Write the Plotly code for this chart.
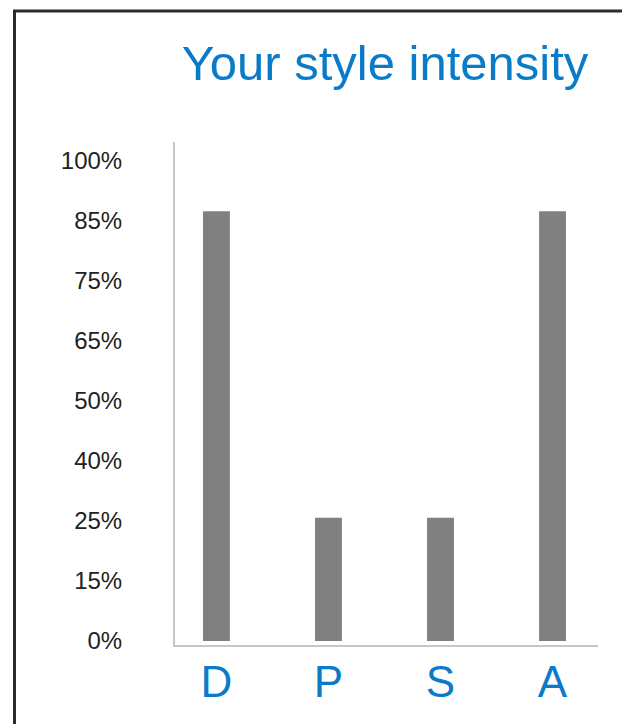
import plotly.graph_objects as go

# Data
categories = ["D", "P", "S", "A"]
# values expressed in units of the (equally spaced) y tick positions
values = [7.15, 2.05, 2.05, 7.15]
tick_positions = [0, 1, 2, 3, 4, 5, 6, 7, 8]
tick_labels = ["0%", "15%", "25%", "40%", "50%", "65%", "75%", "85%", "100%"]

W, H = 622, 724
L, R, T, B = 175, 24, 142, 79
pw, ph = W - L - R, H - T - B
unit = 60.1
y0 = -4 / unit
y1 = y0 + ph / unit

fig = go.Figure()
fig.add_trace(go.Bar(
    x=list(range(len(categories))), y=values, width=0.24,
    marker=dict(color="#808080", line=dict(width=0)),
))

blue = "#0a7bc8"
font_fam = "Liberation Sans, Arial, sans-serif"

fig.update_layout(
    width=W, height=H,
    margin=dict(l=L, r=R, t=T, b=B, pad=0, autoexpand=False),
    paper_bgcolor="white", plot_bgcolor="white",
    showlegend=False,
    font=dict(family=font_fam),
    title=dict(text="Your style intensity", font=dict(size=49, color=blue, family=font_fam),
               x=385 / W, xanchor="center", xref="container",
               y=1 - 63 / H, yanchor="middle", yref="container"),
    xaxis=dict(range=[-0.37, 3.406], tickvals=list(range(len(categories))), ticktext=categories,
               tickfont=dict(size=44, color=blue, family=font_fam), automargin=False,
               showline=True, linecolor="#c3c6ca", linewidth=2, showgrid=False,
               zeroline=False, ticks="", ticklabelstandoff=-3),
    yaxis=dict(range=[y0, y1], tickvals=tick_positions, ticktext=tick_labels,
               tickfont=dict(size=24, color="#222222", family=font_fam), automargin=False,
               showline=True, linecolor="#c3c6ca", linewidth=2, showgrid=False,
               zeroline=False, ticks="", ticklabelstandoff=46),
    shapes=[dict(type="rect", xref="paper", yref="paper",
                 x0=(14.5 - L) / pw, x1=(700 - L) / pw,
                 y0=(H - T - B - (800 - T)) / ph, y1=(T + ph - 11) / ph,
                 line=dict(color="#2b2b2b", width=3), fillcolor="rgba(0,0,0,0)", layer="above")],
)

fig.write_html("out.html", config={"displayModeBar": False},
               post_script="document.body.style.margin='0';document.body.style.overflow='hidden';")
